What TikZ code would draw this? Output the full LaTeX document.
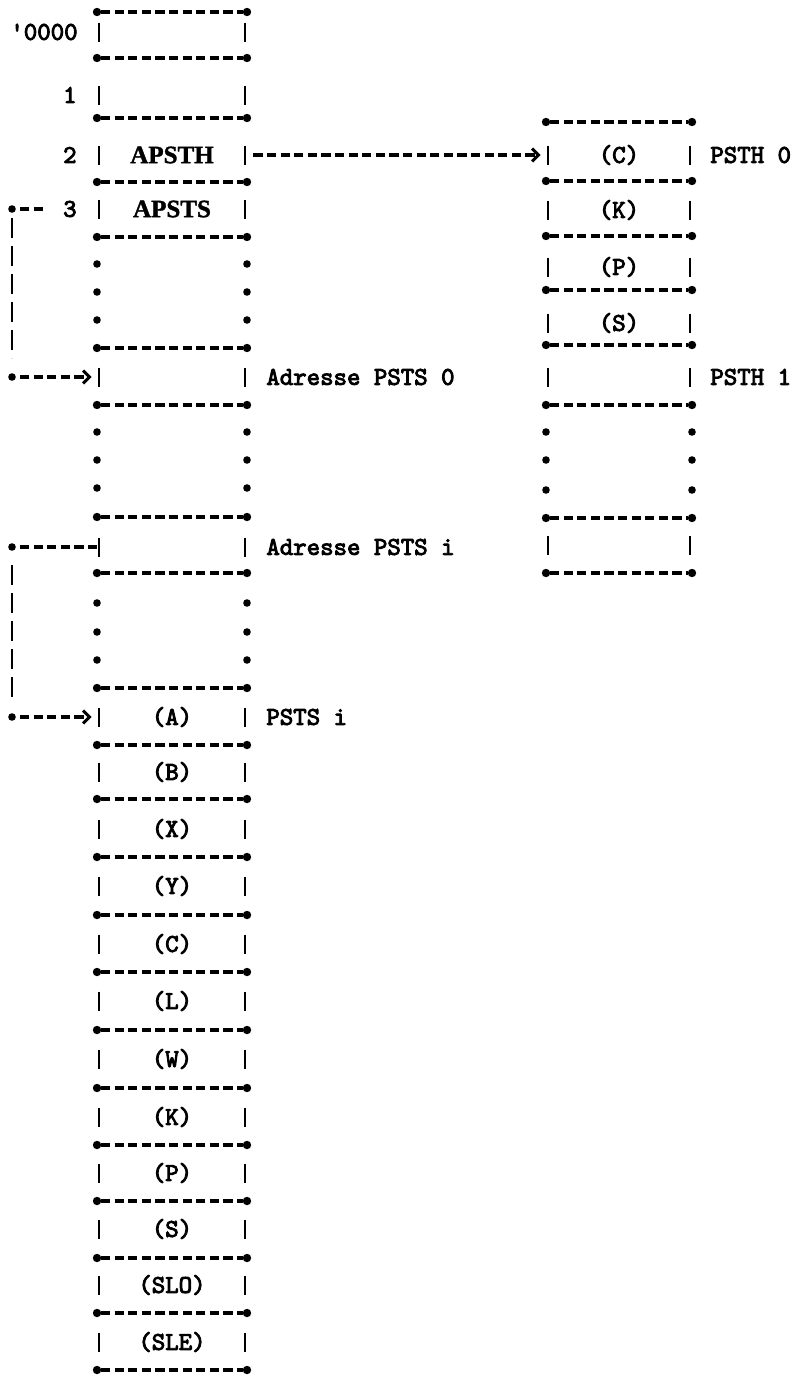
\documentclass[tikz,border=0pt]{standalone}
\usepackage{fontspec}
\newfontfamily\timesf{Liberation Serif}[FakeBold=1.5]
\newfontfamily\ttb{lmmono10-regular.otf}[FakeBold=3.5]
\usetikzlibrary{arrows.meta}
\newcommand\hsepline[3]{%
  \draw[sepline] (#1+4,#3) -- (#2-4,#3);
  \fill (#1,#3) circle[radius=2.1pt];
  \fill (#2,#3) circle[radius=2.1pt];}
\newcommand\vbars[3]{%
  \draw[barline] (#1,#3-9.5) -- (#1,#3+9.5);
  \draw[barline] (#2,#3-9.5) -- (#2,#3+9.5);}
\newcommand\edots[3]{%
  \fill (#1,#3) circle[radius=1.9pt];
  \fill (#2,#3) circle[radius=1.9pt];}
\begin{document}
\begin{tikzpicture}[x=0.5pt,y=-0.5pt,
  sepline/.style={line width=1.6pt, dash pattern=on 4.6pt off 2.2pt},
  barline/.style={line width=1.2pt},
  conn/.style={line width=1.6pt, dash pattern=on 4.6pt off 2.2pt},
  vconn/.style={line width=1.2pt, dash pattern=on 10pt off 4pt},
  tip/.style={-{Straight Barb[length=3.2pt,width=6.5pt,line width=1.5pt]}},
  tt/.style={font=\ttb\fontsize{12.8}{14}\selectfont, inner sep=0pt},
  bfs/.style={font=\timesf\bfseries\fontsize{12.5}{14}\selectfont, inner sep=0pt},
  cellL/.style={minimum width=75pt, minimum height=12pt, inner sep=0pt},
  cellR/.style={minimum width=73pt, minimum height=12pt, inner sep=0pt},
]
\useasboundingbox (0,0) rectangle (805,1381);

% ---- left column structure
\foreach \y in {12,58,118,182,237,348,405,517,573,688,745,799,857,915,972,1030,1088,1145,1201,1258,1313,1370}
  {\hsepline{97}{247}{\y}}
\foreach \y in {32,95,155,209,377,547,717,772,829,886,944,1001,1059,1117,1173,1229,1285,1342}
  {\vbars{99}{245}{\y}}
\foreach \y in {264,292,320,432,460,488,603,632,660}
  {\edots{97}{247}{\y}}

% ---- right column structure
\foreach \y in {122,181,236,290,345,405,518,573}
  {\hsepline{546}{692}{\y}}
\foreach \y in {155,210,267,323,377,545}
  {\vbars{548}{690}{\y}}
\foreach \y in {432,460,490}
  {\edots{546}{692}{\y}}

% ---- left column cells
\node[cellL] (l0) at (172,32) {};
\node[cellL] (l1) at (172,95) {};
\node[cellL,bfs] (l2) at (172,155) {APSTH};
\node[cellL,bfs] (l3) at (172,209) {APSTS};
\node[cellL] (ads0) at (172,377) {};
\node[cellL] (adsi) at (172,547) {};
\node[cellL,tt] (pA) at (172,717) {(A)};
\node[cellL,tt] (pB) at (172,772) {(B)};
\node[cellL,tt] (pX) at (172,829) {(X)};
\node[cellL,tt] (pY) at (172,886) {(Y)};
\node[cellL,tt] (pC) at (172,944) {(C)};
\node[cellL,tt] (pL) at (172,1001) {(L)};
\node[cellL,tt] (pW) at (172,1059) {(W)};
\node[cellL,tt] (pK) at (172,1117) {(K)};
\node[cellL,tt] (pP) at (172,1173) {(P)};
\node[cellL,tt] (pS) at (172,1229) {(S)};
\node[cellL,tt] (pSLO) at (172,1285) {(SLO)};
\node[cellL,tt] (pSLE) at (172,1342) {(SLE)};

% ---- right column cells
\node[cellR,tt] (hC) at (619,155) {(C)};
\node[cellR,tt] (hK) at (619,210) {(K)};
\node[cellR,tt] (hP) at (619,267) {(P)};
\node[cellR,tt] (hS) at (619,323) {(S)};
\node[cellR] (h1) at (619,377) {};
\node[cellR] (hn) at (619,545) {};

% ---- labels
\node[tt,anchor=east] (lab0) at (78,32) {\textquotesingle0000};
\node[tt,anchor=east] (lab1) at (77,95) {1};
\node[tt,anchor=east] (lab2) at (77,155) {2};
\node[tt,anchor=east] (lab3) at (77,209) {3};
\node[tt,anchor=west] (labA0) at (266,377) {Adresse PSTS 0};
\node[tt,anchor=west] (labAi) at (266,547) {Adresse PSTS i};
\node[tt,anchor=west] (labPi) at (266,717) {PSTS i};
\node[tt,anchor=west] (labH0) at (710,155) {PSTH 0};
\node[tt,anchor=west] (labH1) at (710,377) {PSTH 1};

% ---- connectors
\coordinate (k1a) at (12,209);
\coordinate (k1b) at (12,377);
\fill (k1a) circle[radius=1.9pt];
\draw[conn] ([xshift=4pt]k1a) -- ([xshift=-8pt]lab3.west);
\draw[vconn] ([yshift=-4.5pt]k1a) -- ([yshift=9.5pt]k1b);
\fill (k1b) circle[radius=1.9pt];
\draw[conn,tip] ([xshift=4pt]k1b) -- ([xshift=-2.5pt]ads0.west);

\coordinate (k2a) at (12,547);
\coordinate (k2b) at (12,717);
\fill (k2a) circle[radius=1.9pt];
\draw[conn] ([xshift=4pt]k2a) -- (adsi.west);
\draw[vconn] ([yshift=-9pt]k2a) -- ([yshift=9pt]k2b);
\fill (k2b) circle[radius=1.9pt];
\draw[conn,tip] ([xshift=4pt]k2b) -- ([xshift=-2.5pt]pA.west);

\draw[conn,tip] ([xshift=3pt]l2.east) -- ([xshift=-2.5pt]hC.west);
\end{tikzpicture}
\end{document}
